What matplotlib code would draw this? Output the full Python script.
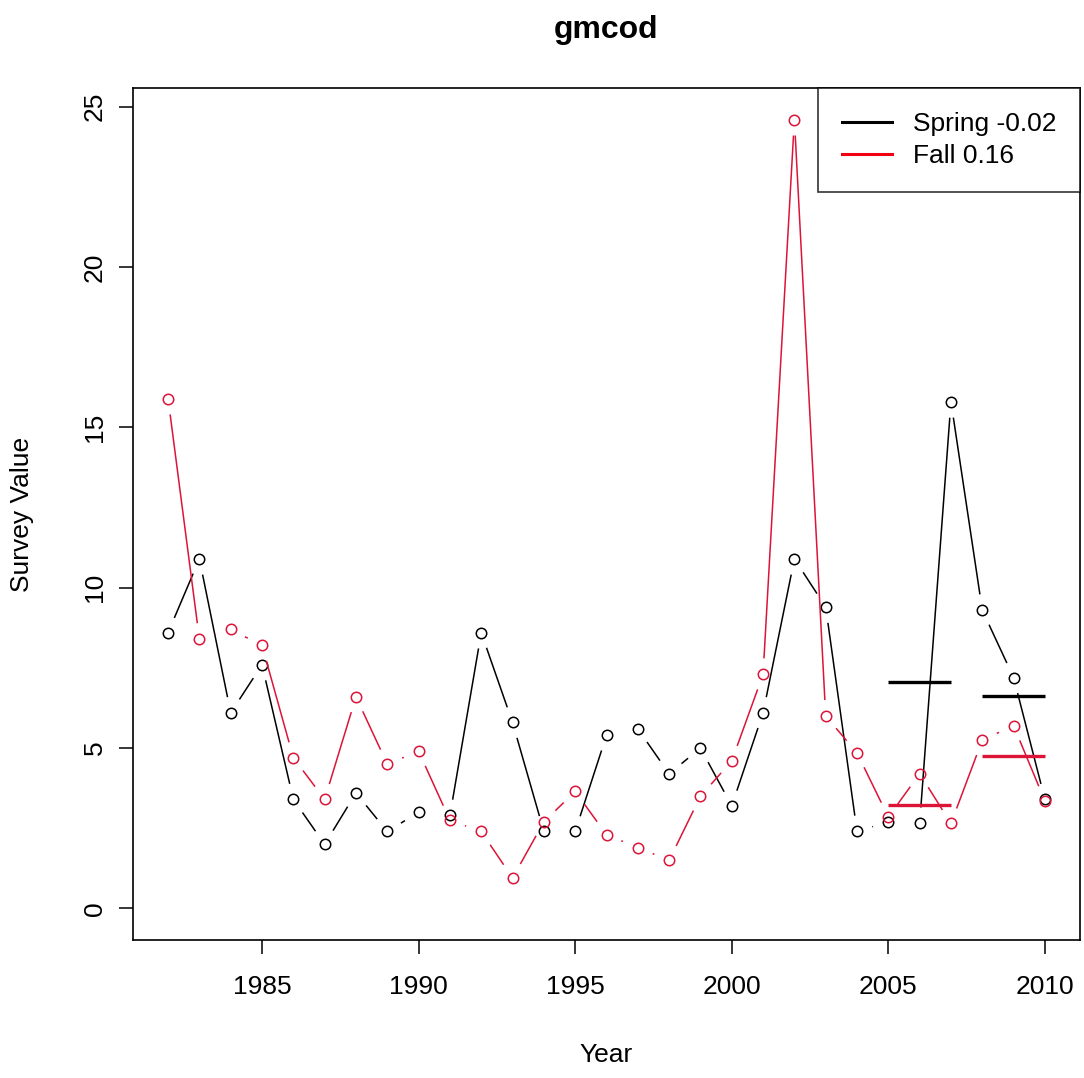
import numpy as np
import matplotlib
matplotlib.use("Agg")
import matplotlib.pyplot as plt
from matplotlib.lines import Line2D

plt.rcParams['font.family'] = ['Liberation Sans', 'DejaVu Sans']

years = list(range(1982, 2011))
spring = [8.6, 10.9, 6.1, 7.6, 3.4, 2.0, 3.6, 2.4, 3.0, 2.9,
          8.6, 5.8, 2.4, 2.4, 5.4, 5.6, 4.2, 5.0, 3.2, 6.1,
          10.9, 9.4, 2.4, 2.7, 2.65, 15.8, 9.3, 7.2, 3.4]
fall = [15.9, 8.4, 8.7, 8.2, 4.7, 3.4, 6.6, 4.5, 4.9, 2.75,
        2.4, 0.95, 2.7, 3.65, 2.3, 1.9, 1.5, 3.5, 4.6, 7.3,
        24.6, 6.0, 4.85, 2.85, 4.2, 2.65, 5.25, 5.7, 3.35]
labels = ['Spring -0.02', 'Fall 0.16']
# two 3-year windows at the end of the series, shown as means
windows = [(2005, 2007), (2008, 2010)]

BLACK = 'black'
RED = '#dc1438'

fig = plt.figure(figsize=(10.84, 10.78), dpi=100)
ax = fig.add_axes([133 / 1084, 138 / 1078, 947 / 1084, 852 / 1078])

# R style axis limits (4% padding), y from 0
xr = years[-1] - years[0]
ax.set_xlim(years[0] - 0.04 * xr, years[-1] + 0.04 * xr)
ymax = max(max(spring), max(fall))
ax.set_ylim(-0.04 * ymax, ymax * 1.04)


def type_b(ax, x, y, color, gap=16):
    # lines with gaps around points, like R's type="b"
    pts = ax.transData.transform(np.column_stack([x, y]))
    inv = ax.transData.inverted()
    for p0, p1 in zip(pts[:-1], pts[1:]):
        d = p1 - p0
        L = np.hypot(d[0], d[1])
        if L <= 2 * gap:
            continue
        u = d / L
        a = inv.transform(p0 + u * gap)
        b = inv.transform(p1 - u * gap)
        ax.plot([a[0], b[0]], [a[1], b[1]], color=color, lw=1.1,
                solid_capstyle='butt')
    ax.plot(x, y, 'o', mfc='none', mec=color, mew=1.1, ms=7.5,
            linestyle='none')


type_b(ax, years, spring, BLACK)
type_b(ax, years, fall, RED)

for series, col in [(spring, BLACK), (fall, RED)]:
    for lo, hi in windows:
        vals = [v for yr, v in zip(years, series) if lo <= yr <= hi]
        m = np.mean(vals)
        ax.plot([lo, hi], [m, m], color=col, lw=2.4, solid_capstyle='butt')

ax.set_xticks(range(1985, 2011, 5))
ax.set_yticks(range(0, 26, 5))
ax.set_yticklabels([str(v) for v in range(0, 26, 5)], rotation=90, va='center')
ax.tick_params(axis='both', direction='out', length=10, width=1.1,
               labelsize=19, colors='black')
ax.tick_params(axis='x', pad=15)
ax.tick_params(axis='y', pad=9)
for s in ax.spines.values():
    s.set_linewidth(1.2)

handles = [Line2D([], [], color=BLACK, lw=2.2),
           Line2D([], [], color='#f00010', lw=2.2)]
leg = ax.legend(handles, labels, loc='upper right', fontsize=19,
                frameon=True, fancybox=False, borderaxespad=0,
                handlelength=1.9, handletextpad=0.8, borderpad=0.9,
                labelspacing=0.32)
leg.get_frame().set_edgecolor('black')
leg.get_frame().set_linewidth(1.2)

fig.text(606 / 1084, 1 - 38 / 1078, 'gmcod', ha='center', va='baseline',
         fontsize=23, fontweight='bold')
fig.text(606 / 1084, 1 - 1055 / 1078, 'Year', ha='center', va='center',
         fontsize=19)
fig.text(22 / 1084, 1 - 514 / 1078, 'Survey Value', ha='center', va='center',
         rotation=90, fontsize=19)

fig.savefig('out.png', dpi=100, facecolor='white')
